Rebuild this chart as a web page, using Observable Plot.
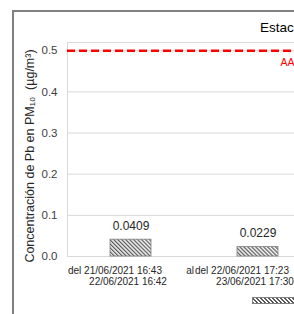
<!DOCTYPE html>
<html>
<head>
<meta charset="utf-8">
<script src="https://cdn.jsdelivr.net/npm/d3@7"></script>
<script src="https://cdn.jsdelivr.net/npm/@observablehq/plot@0.6"></script>
<style>
  html, body { margin: 0; padding: 0; background: #fff; overflow: hidden; }
  #wrap { position: relative; width: 294px; height: 314px; overflow: hidden; background: #fff;
          font-family: 'Liberation Sans', Arial, sans-serif; }
  #chart { position: absolute; left: 0; top: 0; width: 500px; }
  #chart svg { max-width: none !important; width: 500px !important; height: 314px !important; }
  #border { position: absolute; left: 12px; top: 10px; width: 1000px; height: 1000px;
            border-left: 2px solid #808080; border-top: 2px solid #808080; pointer-events: none; }
  #title { position: absolute; left: 260px; top: 21px; font-size: 13.5px; line-height: 14px; color: #000; white-space: nowrap; }
  #legend { position: absolute; left: 252px; top: 297px; white-space: nowrap; font-size: 11px; }
  #legend .sw { display: inline-block; width: 41px; height: 5px; border: 0.5px solid #7f7f7f;
                background: repeating-linear-gradient(45deg, #5a5a5a 0 1.3px, #fff 1.3px 2.8px); vertical-align: top; }
</style>
</head>
<body>
<div id="wrap">
  <div id="chart"></div>
  <div id="title"></div>
  <div id="legend"><span class="sw"></span></div>
  <div id="border"></div>
</div>
<script>
const categories = ["del 21/06/2021 16:43 al 22/06/2021 16:42", "del 22/06/2021 17:23 al 23/06/2021 17:30"];
const values = [0.0409, 0.0229];
const labelStart = ["del 21/06/2021 16:43", "del 22/06/2021 17:23"];
const labelJoin = ["al", ""];
const labelEnd = ["22/06/2021 16:42", "23/06/2021 17:30"];
const yTicks = [0, 0.1, 0.2, 0.3, 0.4, 0.5];
const yMax = 0.52;
const limitValue = 0.5;
const limitLabel = "AA";
const titleText = "Estac";
const yLabel = "Concentración de Pb en PM₁₀  (µg/m³)";

const rows = categories.map((c, i) => ({cat: c, value: values[i], l1: labelStart[i], lj: labelJoin[i], l2: labelEnd[i]}));

document.getElementById("title").textContent = titleText;

const halfStep = 63;
const chart = Plot.plot({
  width: 500,
  height: 314,
  marginLeft: 67,
  marginTop: 42,
  marginBottom: 58,
  marginRight: 0,
  style: {fontFamily: "'Liberation Sans', Arial, sans-serif", color: "#404040", background: "transparent"},
  x: {type: "band", domain: categories, range: [67, 321], paddingInner: 0.68, paddingOuter: 0.34, axis: null},
  y: {domain: [0, yMax], axis: null},
  marks: [
    Plot.ruleY(yTicks.filter(d => d > 0), {stroke: "#d9d9d9", strokeWidth: 1}),
    Plot.frame({stroke: "#d9d9d9"}),
    Plot.barY(rows, {x: "cat", y: "value", fill: "url(#hatch)", stroke: "#808080", strokeWidth: 0.8}),
    Plot.ruleY([limitValue], {stroke: "#ff0000", strokeWidth: 2.5, strokeDasharray: "8,4"}),
    Plot.text([limitLabel], {text: d => d, y: () => limitValue, frameAnchor: "left", textAnchor: "start", lineAnchor: "bottom", dx: 213, dy: 15, fill: "#ff0000", fontSize: 10.5}),
    Plot.text(rows, {x: "cat", y: "value", text: d => d.value.toFixed(4), lineAnchor: "bottom", dy: -10, fontSize: 12, fill: "#262626"}),
    Plot.text(rows, {x: "cat", text: "l1", frameAnchor: "bottom", textAnchor: "start", lineAnchor: "bottom", dx: -halfStep, dy: 17, fontSize: 10, fill: "#262626"}),
    Plot.text(rows.filter(d => d.lj), {x: "cat", text: "lj", frameAnchor: "bottom", textAnchor: "end", lineAnchor: "bottom", dx: halfStep, dy: 17, fontSize: 10, fill: "#262626"}),
    Plot.text(rows, {x: "cat", text: "l2", frameAnchor: "bottom", textAnchor: "middle", lineAnchor: "bottom", dx: -3, dy: 28, fontSize: 10, fill: "#262626"}),
    Plot.axisY({ticks: yTicks, tickFormat: d => d.toFixed(1), tickSize: 0, tickPadding: 10, fontSize: 11.5, label: null}),
    Plot.text([yLabel], {text: d => d, frameAnchor: "left", rotate: -90, textAnchor: "middle", lineAnchor: "bottom",
      dx: -34, dy: 6.5, fontSize: 12.5, fill: "#262626"})
  ]
});

const ns = "http://www.w3.org/2000/svg";
const defs = document.createElementNS(ns, "defs");
const pat = document.createElementNS(ns, "pattern");
pat.setAttribute("id", "hatch");
pat.setAttribute("patternUnits", "userSpaceOnUse");
pat.setAttribute("width", "2.8");
pat.setAttribute("height", "2.8");
pat.setAttribute("patternTransform", "rotate(-45)");
const bg = document.createElementNS(ns, "rect");
bg.setAttribute("width", "2.8"); bg.setAttribute("height", "2.8"); bg.setAttribute("fill", "#ffffff");
const ln = document.createElementNS(ns, "rect");
ln.setAttribute("width", "1.3"); ln.setAttribute("height", "2.8"); ln.setAttribute("fill", "#5a5a5a");
pat.appendChild(bg); pat.appendChild(ln); defs.appendChild(pat);
chart.insertBefore(defs, chart.firstChild);

document.getElementById("chart").appendChild(chart);
</script>
</body>
</html>
